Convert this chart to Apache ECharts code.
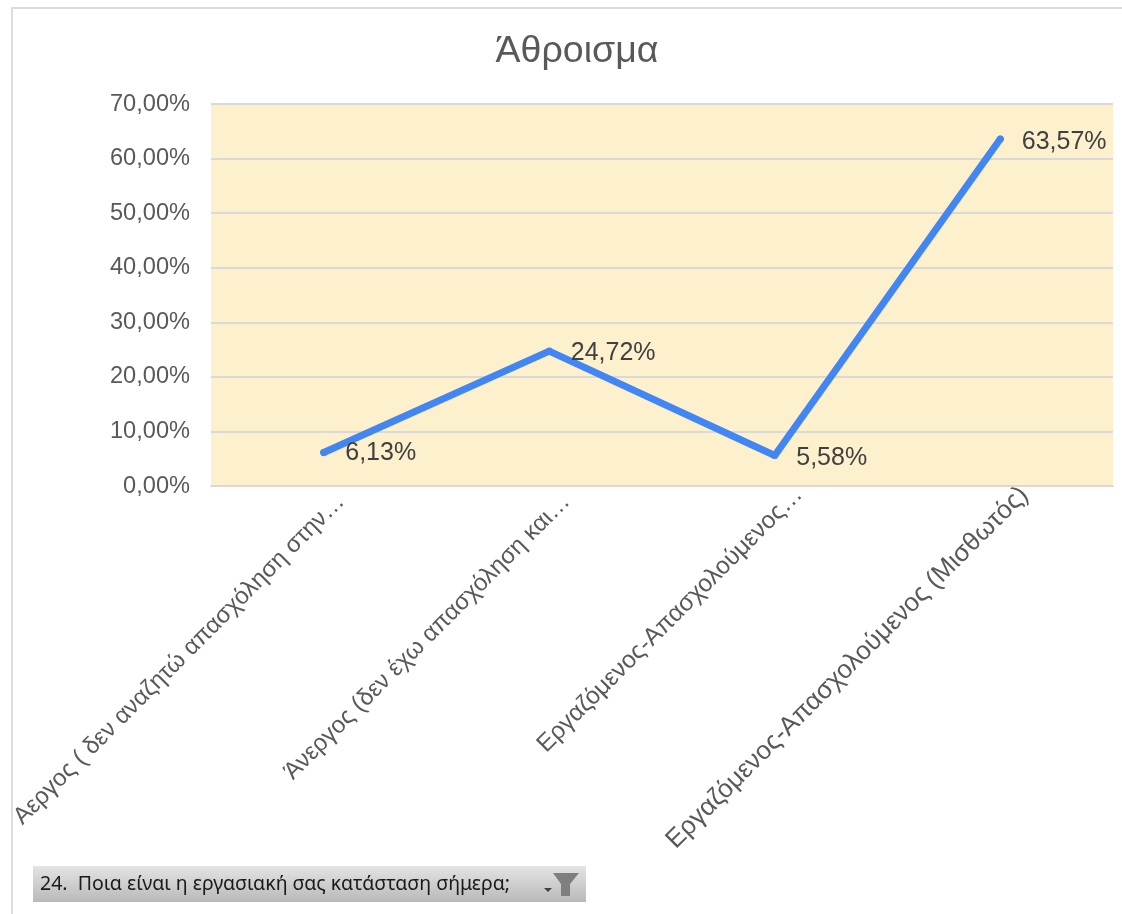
<!DOCTYPE html>
<html>
<head>
<meta charset="utf-8">
<style>
html, body { margin: 0; padding: 0; background: #fff; }
#chart { width: 1122px; height: 914px; }
</style>
<script src="https://cdn.jsdelivr.net/npm/echarts@6/dist/echarts.min.js"></script>
</head>
<body>
<div id="chart"></div>
<script>
const titleText = 'Άθροισμα'
const filterText = '24.  Ποια είναι η εργασιακή σας κατάσταση σήμερα;'
const categories = [
    'Αεργος ( δεν αναζητώ απασχόληση στην…',
    'Άνεργος (δεν έχω απασχόληση και…',
    'Εργαζόμενος-Απασχολούμενος…',
    'Εργαζόμενος-Απασχολούμενος (Μισθωτός)'
]
const values = [6.13, 24.72, 5.58, 63.57]

const pct = v => v.toFixed(2).replace('.', ',') + '%'
const font = '"Liberation Sans", Arial, sans-serif'
// the original font runs wider on some labels
const catFontSizes = [24, 24, 24.5, 26]
const catPadRight = [-24, -24, -34, -34]
const labelOffsets = [[0, 1], [0, 2], [0, 3], [0, 3]]

let chart = echarts.init(document.getElementById('chart'))
chart.setOption({
    animation: false,
    backgroundColor: '#ffffff',
    title: {
        text: titleText,
        left: 572,
        top: 28,
        textAlign: 'center',
        textStyle: { fontFamily: font, fontSize: 37.5, fontWeight: 'normal', color: '#595959' }
    },
    grid: {
        left: 211,
        right: 9,
        top: 104,
        bottom: 428,
        show: true,
        backgroundColor: '#fdf0cd',
        borderWidth: 0
    },
    xAxis: {
        type: 'category',
        data: categories.map((c, i) => ({
            value: c,
            textStyle: { fontSize: catFontSizes[i], padding: [0, catPadRight[i], 0, 0] }
        })),
        axisTick: { show: false },
        axisLine: { lineStyle: { color: '#d9d9d9', width: 2 } },
        axisLabel: {
            interval: 0,
            rotate: 45,
            margin: 29,
            fontFamily: font,
            fontSize: 24,
            color: '#595959'
        }
    },
    yAxis: {
        type: 'value',
        min: 0,
        max: 70,
        interval: 10,
        axisLine: { show: false },
        axisTick: { show: false },
        splitLine: { lineStyle: { color: '#d9d9d9', width: 2 } },
        axisLabel: {
            formatter: pct,
            margin: 21,
            padding: [4, 0, 0, 0],
            fontFamily: font,
            fontSize: 23.6,
            color: '#595959'
        }
    },
    series: [
        {
            type: 'line',
            data: values.map((v, i) => ({
                value: v,
                label: { offset: labelOffsets[i] }
            })),
            symbol: 'circle',
            symbolSize: 7,
            itemStyle: { color: '#4285f4' },
            lineStyle: { color: '#4285f4', width: 7, cap: 'round' },
            label: {
                show: true,
                position: 'right',
                distance: 18,
                formatter: ({ value }) => pct(value),
                fontFamily: font,
                fontSize: 25,
                color: '#404040'
            }
        }
    ],
    graphic: [
        // screenshot frame
        { type: 'line', shape: { x1: 12, y1: 8, x2: 1122, y2: 8 }, style: { stroke: '#dcdcdc', lineWidth: 2 } },
        { type: 'line', shape: { x1: 12, y1: 7, x2: 12, y2: 914 }, style: { stroke: '#dcdcdc', lineWidth: 2 } },
        // pivot field button
        {
            type: 'rect',
            shape: { x: 33, y: 866, width: 553, height: 36 },
            style: {
                fill: new echarts.graphic.LinearGradient(0, 0, 0, 1, [
                    { offset: 0, color: '#e4e4e4' },
                    { offset: 1, color: '#b9b9b9' }
                ])
            }
        },
        {
            type: 'text',
            x: 40,
            y: 884,
            style: {
                text: filterText,
                fontFamily: '"Noto Sans", sans-serif',
                fontSize: 19.5,
                fill: '#1a1a1a',
                verticalAlign: 'middle'
            }
        },
        { type: 'polygon', shape: { points: [[553, 873], [579, 873], [570, 884], [570, 896], [561, 896], [561, 884]] }, style: { fill: '#7f7f7f' } },
        { type: 'polygon', shape: { points: [[544, 888], [552, 888], [548, 892]] }, style: { fill: '#404040' } }
    ]
})
</script>
</body>
</html>
